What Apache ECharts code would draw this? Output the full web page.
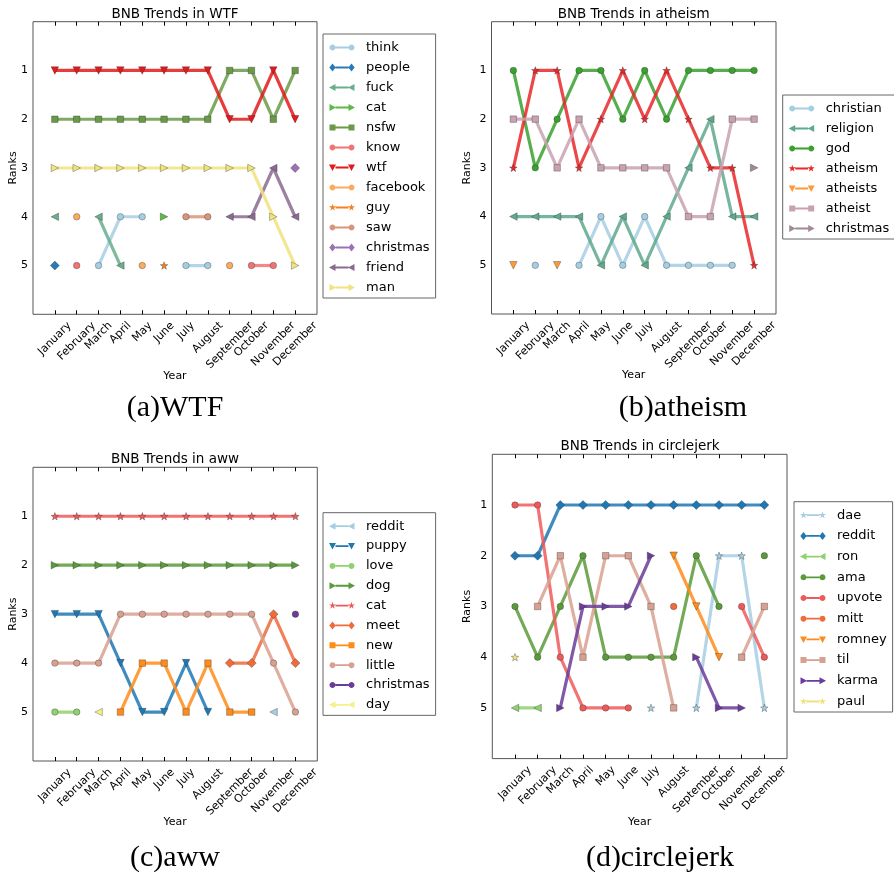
<!DOCTYPE html>
<html><head><meta charset="utf-8">
<script src="https://cdn.jsdelivr.net/npm/echarts@6/dist/echarts.min.js"></script>
<style>html,body{margin:0;padding:0;background:#fff}#c{width:894px;height:881px}</style>
</head><body><div id="c"></div>
<script>
// ---------- data ----------
const months = ['January','February','March','April','May','June','July','August','September','October','November','December'];
const rankTicks = [1,2,3,4,5];
const titles = ['BNB Trends in WTF','BNB Trends in atheism','BNB Trends in aww','BNB Trends in circlejerk'];
const captions = ['(a)WTF','(b)atheism','(c)aww','(d)circlejerk'];
const _ = null;

// (a) WTF
const wtfNames = ['think','people','fuck','cat','nsfw','know','wtf','facebook','guy','saw','christmas','friend','man'];
const wtf_think    = [_,_,5,4,4,_,5,5,_,_,_,_];
const wtf_people   = [5,_,_,_,_,_,_,_,_,_,_,_];
const wtf_fuck     = [4,_,4,5,_,_,_,_,_,_,_,_];
const wtf_cat      = [_,_,_,_,_,4,_,_,_,_,_,_];
const wtf_nsfw     = [2,2,2,2,2,2,2,2,1,1,2,1];
const wtf_know     = [_,5,_,_,_,_,_,_,_,5,5,_];
const wtf_wtf      = [1,1,1,1,1,1,1,1,2,2,1,2];
const wtf_facebook = [_,4,_,_,5,_,_,_,5,_,_,_];
const wtf_guy      = [_,_,_,_,_,5,_,_,_,_,_,_];
const wtf_saw      = [_,_,_,_,_,_,4,4,_,_,_,_];
const wtf_christmas= [_,_,_,_,_,_,_,_,_,_,_,3];
const wtf_friend   = [_,_,_,_,_,_,_,_,4,4,3,4];
const wtf_man      = [3,3,3,3,3,3,3,3,3,3,4,5];

// (b) atheism
const athNames = ['christian','religion','god','atheism','atheists','atheist','christmas'];
const ath_christian = [_,5,_,5,4,5,4,5,5,5,5,_];
const ath_religion  = [4,4,4,4,5,4,5,4,3,2,4,4];
const ath_god       = [1,3,2,1,1,2,1,2,1,1,1,1];
const ath_atheism   = [3,1,1,3,2,1,2,1,2,3,3,5];
const ath_atheists  = [5,_,5,_,_,_,_,_,_,_,_,_];
const ath_atheist   = [2,2,3,2,3,3,3,3,4,4,2,2];
const ath_christmas = [_,_,_,_,_,_,_,_,_,_,_,3];

// (c) aww
const awwNames = ['reddit','puppy','love','dog','cat','meet','new','little','christmas','day'];
const aww_reddit    = [_,_,_,_,_,_,_,_,_,_,5,_];
const aww_puppy     = [3,3,3,4,5,5,4,5,_,_,_,_];
const aww_love      = [5,5,_,_,_,_,_,_,_,_,_,_];
const aww_dog       = [2,2,2,2,2,2,2,2,2,2,2,2];
const aww_cat       = [1,1,1,1,1,1,1,1,1,1,1,1];
const aww_meet      = [_,_,_,_,_,_,_,_,4,4,3,4];
const aww_new       = [_,_,_,5,4,4,5,4,5,5,_,_];
const aww_little    = [4,4,4,3,3,3,3,3,3,3,4,5];
const aww_christmas = [_,_,_,_,_,_,_,_,_,_,_,3];
const aww_day       = [_,_,5,_,_,_,_,_,_,_,_,_];

// (d) circlejerk
const cjNames = ['dae','reddit','ron','ama','upvote','mitt','romney','til','karma','paul'];
const cj_dae    = [_,_,_,_,_,_,5,_,5,2,2,5];
const cj_reddit = [2,2,1,1,1,1,1,1,1,1,1,1];
const cj_ron    = [5,5,_,_,_,_,_,_,_,_,_,_];
const cj_ama    = [3,4,3,2,4,4,4,4,2,3,_,2];
const cj_upvote = [1,1,4,5,5,5,_,_,_,_,3,4];
const cj_mitt   = [_,_,_,_,_,_,_,3,_,_,_,_];
const cj_romney = [_,_,_,_,_,_,_,2,3,4,_,_];
const cj_til    = [_,3,2,4,2,2,3,5,_,_,4,3];
const cj_karma  = [_,_,5,3,3,3,2,_,4,5,5,_];
const cj_paul   = [4,_,_,_,_,_,_,_,_,_,_,_];

// ---------- styles ----------
const STAR = 'path://M0,-10L2.35,-3.24L9.51,-3.09L3.8,1.24L5.88,8.09L0,4L-5.88,8.09L-3.8,1.24L-9.51,-3.09L-2.35,-3.24Z';
const MK = {
  o:{symbol:'circle',size:6.5,rot:0},
  D:{symbol:'diamond',size:9,rot:0},
  '<':{symbol:'triangle',size:7.5,rot:90},
  '>':{symbol:'triangle',size:7.5,rot:-90},
  v:{symbol:'triangle',size:7.5,rot:180},
  s:{symbol:'rect',size:6.5,rot:0},
  '*':{symbol:STAR,size:7.5,rot:0}
};
// legend handle: short line with a marker at each end (matplotlib style)
function poly(pts){ return 'M' + pts.map(p => p[0].toFixed(2) + ',' + p[1].toFixed(2)).join('L') + 'Z'; }
function markerShape(k, cx, cy){
  const pts = [];
  if (k === 'o') { for (let i = 0; i < 16; i++) { const a = i*Math.PI/8; pts.push([cx+3*Math.cos(a), cy+3*Math.sin(a)]); } return poly(pts); }
  if (k === 'D') return poly([[cx,cy-4],[cx+3.2,cy],[cx,cy+4],[cx-3.2,cy]]);
  if (k === 's') return poly([[cx-3,cy-3],[cx+3,cy-3],[cx+3,cy+3],[cx-3,cy+3]]);
  if (k === 'v') return poly([[cx-3.5,cy-3],[cx+3.5,cy-3],[cx,cy+3.5]]);
  if (k === '<') return poly([[cx-3.5,cy],[cx+3,cy-3.5],[cx+3,cy+3.5]]);
  if (k === '>') return poly([[cx+3.5,cy],[cx-3,cy-3.5],[cx-3,cy+3.5]]);
  for (let i = 0; i < 10; i++) { const a = -Math.PI/2 + i*Math.PI/5, r = i % 2 ? 1.5 : 3.8; pts.push([cx+r*Math.cos(a), cy+r*Math.sin(a)]); }
  return poly(pts);
}
function legendIcon(k){
  return 'path://M0,0.01L0.01,0Z' + 'M26,8L25.99,8Z' + poly([[6.5,3.1],[19.5,3.1],[19.5,4.9],[6.5,4.9]]) + markerShape(k,3.5,4) + markerShape(k,22.5,4);
}

const panels = [
  {names:wtfNames,
   values:[wtf_think,wtf_people,wtf_fuck,wtf_cat,wtf_nsfw,wtf_know,wtf_wtf,wtf_facebook,wtf_guy,wtf_saw,wtf_christmas,wtf_friend,wtf_man],
   colors:['#a6cee3','#2a7ab8','#6aae8c','#5cb848','#6a9a48','#f07474','#e31a1c','#fbab5e','#f58020','#d9957a','#9b72b5','#8a6a90','#f0e27e'],
   markers:['o','D','<','>','s','o','v','o','*','o','D','<','>']},
  {names:athNames,
   values:[ath_christian,ath_religion,ath_god,ath_atheism,ath_atheists,ath_atheist,ath_christmas],
   colors:['#a6cee3','#5fa98c','#3aa030','#e8282a','#fd9a3a','#c9a2b2','#a08a98'],
   markers:['o','<','o','*','v','s','>']},
  {names:awwNames,
   values:[aww_reddit,aww_puppy,aww_love,aww_dog,aww_cat,aww_meet,aww_new,aww_little,aww_christmas,aww_day],
   colors:['#a6cee3','#1f78b4','#8fd16f','#5a9a3a','#ee5a5a','#f06a3a','#ff8c1a','#d8a090','#6a3d9a','#f5f08a'],
   markers:['<','v','o','>','*','D','s','o','o','<']},
  {names:cjNames,
   values:[cj_dae,cj_reddit,cj_ron,cj_ama,cj_upvote,cj_mitt,cj_romney,cj_til,cj_karma,cj_paul],
   colors:['#a6cee3','#1f78b4','#8fd16f','#5a9a3a','#ee5a5a','#f06a3a','#ff8c1a','#d8a090','#6a3d9a','#f0e27e'],
   markers:['*','D','<','o','o','o','v','s','>','*']}
];

const FONT = '"DejaVu Sans", sans-serif';
const TICKFS = 11;
const grids = [
  {left:33, top:21.7, width:284, height:292.6},
  {left:491.5, top:21.7, width:284.5, height:292.3},
  {left:33, top:467.3, width:284.3, height:293.7},
  {left:492.3, top:454.3, width:294.7, height:304.3}
];
const yNameGap = [14, 19, 14, 20];
const xNameGap = [56, 56, 56, 58];
const legendPos = [
  {left:323, top:34, gap:7.0},
  {left:782.7, top:95, gap:7.0},
  {left:323, top:512.7, gap:6.85},
  {left:794, top:501.7, gap:7.7}
];
const titlePos = [[175,14],[633.7,14],[175,459],[640,446]];
const captionPos = [[175,408],[683,408],[175,858],[660,858]];

const cats = [''].concat(months, ['']);
const tickFn = (i) => i >= 1 && i <= 12;

const xAxes = [], yAxes = [], series = [], legends = [], graphics = [];
grids.forEach((g, gi) => {
  xAxes.push({type:'category', gridIndex:gi, data:cats, boundaryGap:false, position:'bottom',
    axisLine:{show:false, onZero:false}, splitLine:{show:false},
    axisTick:{inside:true, length:4, interval:tickFn, lineStyle:{color:'#000'}},
    axisLabel:{show:false},
    name:'Year', nameLocation:'middle', nameGap:xNameGap[gi], nameMoveOverlap:false,
    nameTextStyle:{fontSize:11, fontFamily:FONT, color:'#000'}});
  xAxes.push({type:'category', gridIndex:gi, data:cats, boundaryGap:false, position:'top',
    axisLine:{show:false, onZero:false}, splitLine:{show:false}, axisLabel:{show:false},
    axisTick:{inside:true, length:4, interval:tickFn, lineStyle:{color:'#000'}}});
  yAxes.push({type:'value', gridIndex:gi, inverse:true, min:0, max:6, interval:1, position:'left',
    axisLine:{show:false, onZero:false}, splitLine:{show:false},
    axisTick:{inside:true, length:4, lineStyle:{color:'#000'}},
    axisLabel:{margin:5, fontSize:TICKFS, fontFamily:FONT, color:'#000',
      formatter: v => rankTicks.indexOf(v) >= 0 ? String(v) : ''},
    name:'Ranks', nameLocation:'middle', nameGap:yNameGap[gi], nameMoveOverlap:false,
    nameTextStyle:{fontSize:11, fontFamily:FONT, color:'#000'}});
  yAxes.push({type:'value', gridIndex:gi, inverse:true, min:0, max:6, interval:1, position:'right',
    axisLine:{show:false, onZero:false}, splitLine:{show:false}, axisLabel:{show:false},
    axisTick:{inside:true, length:4, lineStyle:{color:'#000'}}});

  const p = panels[gi];
  const legendData = [];
  p.names.forEach((nm, si) => {
    const id = nm + '#' + gi;
    legendData.push({name:id, icon:legendIcon(p.markers[si])});
    const mk = MK[p.markers[si]];
    const col = p.colors[si];
    series.push({
      type:'line', name:id, xAxisIndex:gi*2, yAxisIndex:gi*2,
      data:[null].concat(p.values[si]),
      symbol:mk.symbol, symbolSize:mk.size, symbolRotate:mk.rot,
      showSymbol:true, showAllSymbol:true, connectNulls:false, animation:false,
      lineStyle:{color:col, width:3.2, opacity:0.85},
      itemStyle:{color:col, borderColor:'rgba(40,40,40,0.55)', borderWidth:0.6},
      emphasis:{disabled:true}
    });
  });
  const lp = legendPos[gi];
  legends.push({
    orient:'vertical', left:lp.left, top:lp.top, data:legendData,
    padding:[7,6,4,6], itemGap:lp.gap, itemWidth:26, itemHeight:8, symbolKeepAspect:true,
    borderColor:'#666', borderWidth:1, borderRadius:0, backgroundColor:'#fff',
    selectedMode:false,
    itemStyle:{borderWidth:0},
    formatter: n => n.split('#')[0],
    textStyle:{fontSize:13, fontFamily:FONT, color:'#000', padding:[0,0,0,6]}
  });
  graphics.push({type:'text', x:titlePos[gi][0], y:titlePos[gi][1],
    style:{text:titles[gi], fontSize:13.5, fontFamily:FONT, fill:'#000', align:'center', verticalAlign:'middle'}});
  graphics.push({type:'text', x:captionPos[gi][0], y:captionPos[gi][1],
    style:{text:captions[gi], fontSize:30, fontFamily:'"Liberation Serif", serif', fill:'#000', align:'center', verticalAlign:'middle'}});
});

const chart = echarts.init(document.getElementById('c'), null, {renderer:'canvas'});
chart.setOption({
  animation:false,
  backgroundColor:'#fff',
  grid: grids.map(g => Object.assign({show:true, borderColor:'#555', borderWidth:1, backgroundColor:'transparent'}, g)),
  xAxis:xAxes, yAxis:yAxes, series:series, legend:legends, graphic:graphics
});

// month labels, rotated 45 deg and centred under each tick (placed through the axis scales)
const mctx = document.createElement('canvas').getContext('2d');
mctx.font = TICKFS + 'px "DejaVu Sans"';
const labelEls = [];
grids.forEach((g, gi) => {
  const yb = chart.convertToPixel({yAxisIndex: gi*2}, 6);
  months.forEach((m, mi) => {
    const x = chart.convertToPixel({xAxisIndex: gi*2}, mi + 1);
    const w = mctx.measureText(m).width, h = 13;
    const cy = yb + 5 + (w + h) * 0.7071 / 2;
    labelEls.push({type:'text', x:x, y:cy, rotation:Math.PI/4,
      style:{text:m, fontSize:TICKFS, fontFamily:FONT, fill:'#000', align:'center', verticalAlign:'middle'}});
  });
});
chart.setOption({graphic: graphics.concat(labelEls)});
</script></body></html>
